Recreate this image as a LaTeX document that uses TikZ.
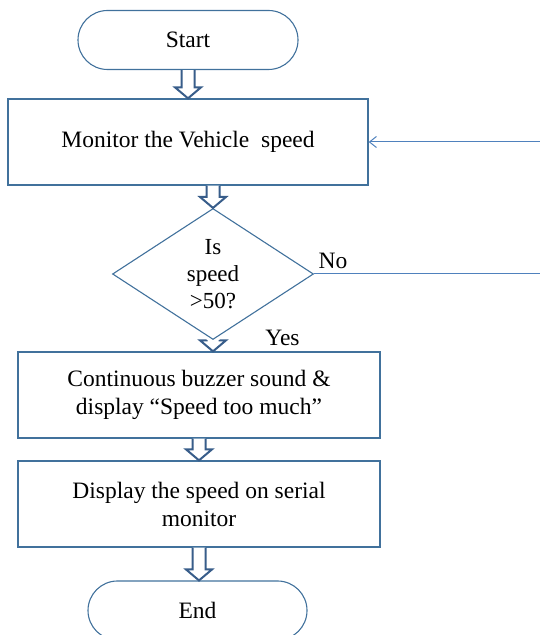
\documentclass[tikz,border=0pt]{standalone}
\usepackage{fontspec}
\setmainfont{Liberation Serif}
\usetikzlibrary{shapes.geometric,shapes.misc,calc,arrows.meta}
\definecolor{boxblue}{RGB}{65,113,156}
\definecolor{linkblue}{RGB}{79,129,189}
\definecolor{arrblue}{RGB}{56,93,138}
\tikzset{
  txt/.style={font=\fontsize{23.5}{28}\selectfont, align=center, text=black},
  term/.style={txt, rounded rectangle, draw=boxblue, line width=1.1pt, inner sep=0pt, minimum width=220pt, minimum height=59pt},
  procbox/.style={txt, rectangle, draw=boxblue, line width=1.3pt, inner sep=0pt, minimum height=86pt},
  decide/.style={txt, diamond, aspect=1.5, draw=boxblue, line width=1.1pt, inner sep=0pt, minimum width=201pt, minimum height=131pt, font=\fontsize{23}{27}\selectfont},
  barr/.style={draw=arrblue, fill=white, line width=2pt, line join=miter},
  lbl/.style={txt, inner sep=0pt},
  feedback/.style={draw=linkblue, line width=1pt}
}
\newcommand\blockarr[2]{%
  \draw[barr] ($(#1)+(-6.5,0)$) -- ($(#2)+(-6.5,11)$) -- ($(#2)+(-13,11)$) -- (#2)
    -- ($(#2)+(13,11)$) -- ($(#2)+(6.5,11)$) -- ($(#1)+(6.5,0)$);}
\begin{document}
\begin{tikzpicture}[x=1pt,y=1pt]
\useasboundingbox (0,0) rectangle (540,635);
\node[term] (s) at (188,595) {Start};
\node[procbox, minimum width=360pt] (m) at (188,493) {Monitor the Vehicle\ \ speed};
\node[decide] (d) at (213,361) {Is\\speed\\>50?};
\node[procbox, minimum width=362pt] (b2) at (199,240) {Continuous buzzer sound \&\\display “Speed too much”};
\node[procbox, minimum width=362pt] (b3) at (199,131) {Display the speed on serial\\monitor};
\node[term, minimum width=219pt] (e) at (197.5,24.5) {End};
\node[lbl] (no) at (333,374) {No};
\node[lbl] (yes) at (282.5,297) {Yes};
% block arrows
\coordinate (a2t) at (d.north |- m.south);
\coordinate (a3b) at (d.south |- b2.north);
\coordinate (a5b) at (b3.south |- e.north);
\blockarr{s.south}{m.north}
\blockarr{a2t}{d.north}
\blockarr{d.south}{a3b}
\blockarr{b2.south}{b3.north}
\blockarr{b3.south}{a5b}
% feedback loop (vertical part lies beyond the page edge)
\coordinate (r1) at (548,0 |- d.east);
\coordinate (r2) at (548,0 |- m.east);
\draw[feedback, -{Straight Barb[length=7pt,width=11pt]}] (d.east) -- (r1) -- (r2) -- (m.east);
\end{tikzpicture}
\end{document}
